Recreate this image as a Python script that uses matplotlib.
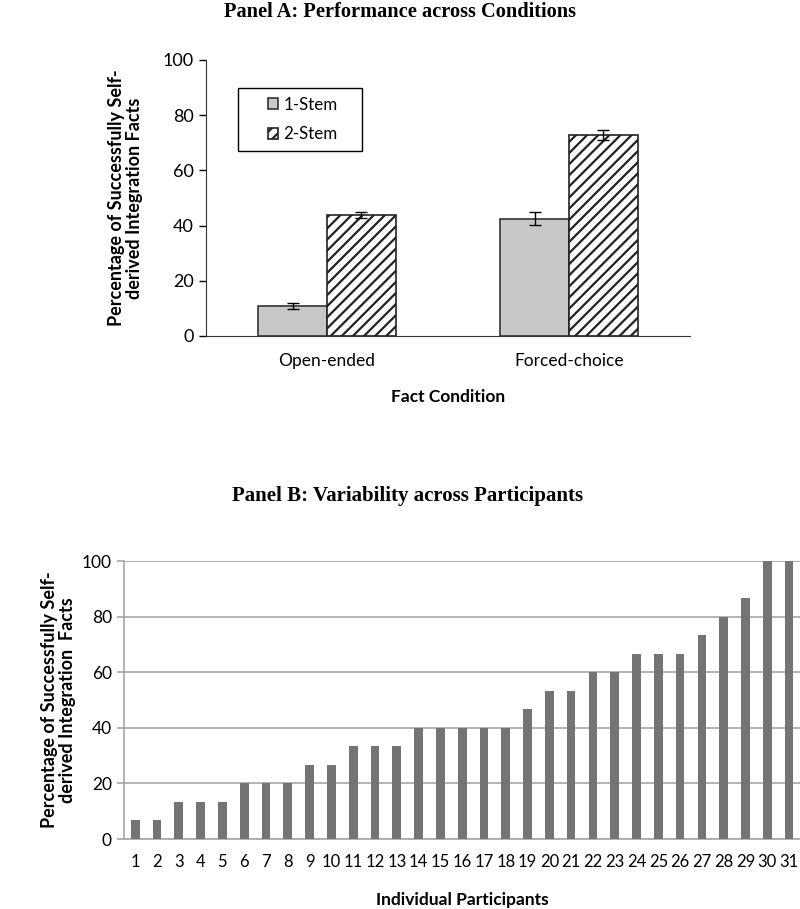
import matplotlib
matplotlib.use("Agg")
import matplotlib.pyplot as plt
from matplotlib.patches import Rectangle
import numpy as np

# ---- Data ----
conditions = ["Open-ended", "Forced-choice"]
series_names = ["1-Stem", "2-Stem"]
one_stem = [10.8, 42.5]
one_stem_err = [1.0, 2.4]
two_stem = [43.9, 72.7]
two_stem_err = [1.2, 1.8]

participants = [str(i) for i in range(1, 32)]
participant_pct = [6.67, 6.67, 13.33, 13.33, 13.33, 20, 20, 20, 26.67, 26.67,
                   33.33, 33.33, 33.33, 40, 40, 40, 40, 40, 46.67, 53.33,
                   53.33, 60, 60, 66.67, 66.67, 66.67, 73.33, 80, 86.67, 100, 100]

SANS = "Lato"
SERIF = "Liberation Serif"
plt.rcParams['hatch.linewidth'] = 1.6

W, H = 800, 909
fig = plt.figure(figsize=(8, 9.09), dpi=100)

# ---- Panel A ----
axA = fig.add_axes([206/W, 1-336/H, (690-206)/W, (336-60)/H])
x = np.arange(len(conditions))
w = 0.285
axA.bar(x - w/2, one_stem, w, color="#c8c8c8", edgecolor="#333333", linewidth=1.2,
        label=series_names[0])
axA.bar(x + w/2, two_stem, w, color="white", edgecolor="#222222", linewidth=1.2,
        hatch="///", label=series_names[1])
axA.errorbar(x - w/2, one_stem, yerr=one_stem_err, fmt="none", ecolor="black",
             elinewidth=1.0, capsize=4, capthick=1.0)
axA.errorbar(x + w/2, two_stem, yerr=two_stem_err, fmt="none", ecolor="black",
             elinewidth=1.0, capsize=4, capthick=1.0)
axA.set_xlim(-0.5, 1.5)
axA.set_ylim(0, 100)
axA.set_yticks([0, 20, 40, 60, 80, 100])
axA.set_xticks(x)
axA.set_xticklabels(conditions, fontsize=12.5, family=SANS)
for t in axA.get_yticklabels():
    t.set_fontsize(13); t.set_family(SANS)
axA.tick_params(axis="x", length=0, pad=12)
axA.tick_params(axis="y", length=5, direction="out", width=1, pad=4)
for s in ["top", "right"]:
    axA.spines[s].set_visible(False)
axA.spines["left"].set_color("#333333")
axA.spines["bottom"].set_color("#333333")
axA.set_xlabel("Fact Condition", fontsize=12.5, fontweight="bold", family=SANS, labelpad=15)
axA.set_ylabel("Percentage of Successfully Self-\nderived Integration Facts", fontsize=13,
               fontweight="bold", family=SANS, labelpad=14, linespacing=1.1)
leg = axA.legend(loc="center left", bbox_to_anchor=(268/W, 1-119.5/H),
                 bbox_transform=fig.transFigure,
                 prop={"family": SANS, "size": 12.2}, frameon=False,
                 handlelength=0.6, handleheight=0.6,
                 borderpad=0, labelspacing=0.8, handletextpad=0.3, borderaxespad=0)
fig.patches.append(Rectangle((238/W, 1-151/H), 124/W, 63/H, transform=fig.transFigure,
                             fill=False, edgecolor="black", linewidth=1.0))
fig.text(0.5, 1-12/H, "Panel A: Performance across Conditions", ha="center", va="center",
         fontsize=14.7, fontweight="bold", family=SERIF)

# ---- Panel B ----
axB = fig.add_axes([124.3/W, 1-839/H, (800-124.3)/W, (839-561)/H])
xb = np.arange(len(participants))
axB.bar(xb, participant_pct, 0.4, color="#747474", zorder=3)
axB.set_xlim(-0.5, len(participants) - 0.5)
axB.set_ylim(0, 100)
axB.set_yticks([0, 20, 40, 60, 80, 100])
axB.yaxis.grid(True, color="#a6a6a6", linewidth=1.2, zorder=0)
axB.set_axisbelow(True)
axB.set_xticks(xb)
axB.set_xticklabels(participants, fontsize=12, family=SANS)
for t in axB.get_yticklabels():
    t.set_fontsize(12.5); t.set_family(SANS)
axB.tick_params(axis="x", length=0, pad=11)
axB.tick_params(axis="y", length=5, direction="out", color="#a6a6a6", width=1.2, pad=4)
for s in ["top", "right"]:
    axB.spines[s].set_visible(False)
axB.spines["left"].set_color("#a6a6a6")
axB.spines["left"].set_linewidth(1.2)
axB.spines["bottom"].set_color("#a6a6a6")
axB.spines["bottom"].set_linewidth(1.2)
axB.set_xlabel("Individual Participants", fontsize=12.5, fontweight="bold", family=SANS, labelpad=16)
axB.set_ylabel("Percentage of Successfully Self-\nderived Integration  Facts", fontsize=13,
               fontweight="bold", family=SANS, labelpad=4, linespacing=1.1)
fig.text(0.51, 1-496/H, "Panel B: Variability across Participants", ha="center", va="center",
         fontsize=15, fontweight="bold", family=SERIF)

fig.savefig("out.png", dpi=100, facecolor="white")
